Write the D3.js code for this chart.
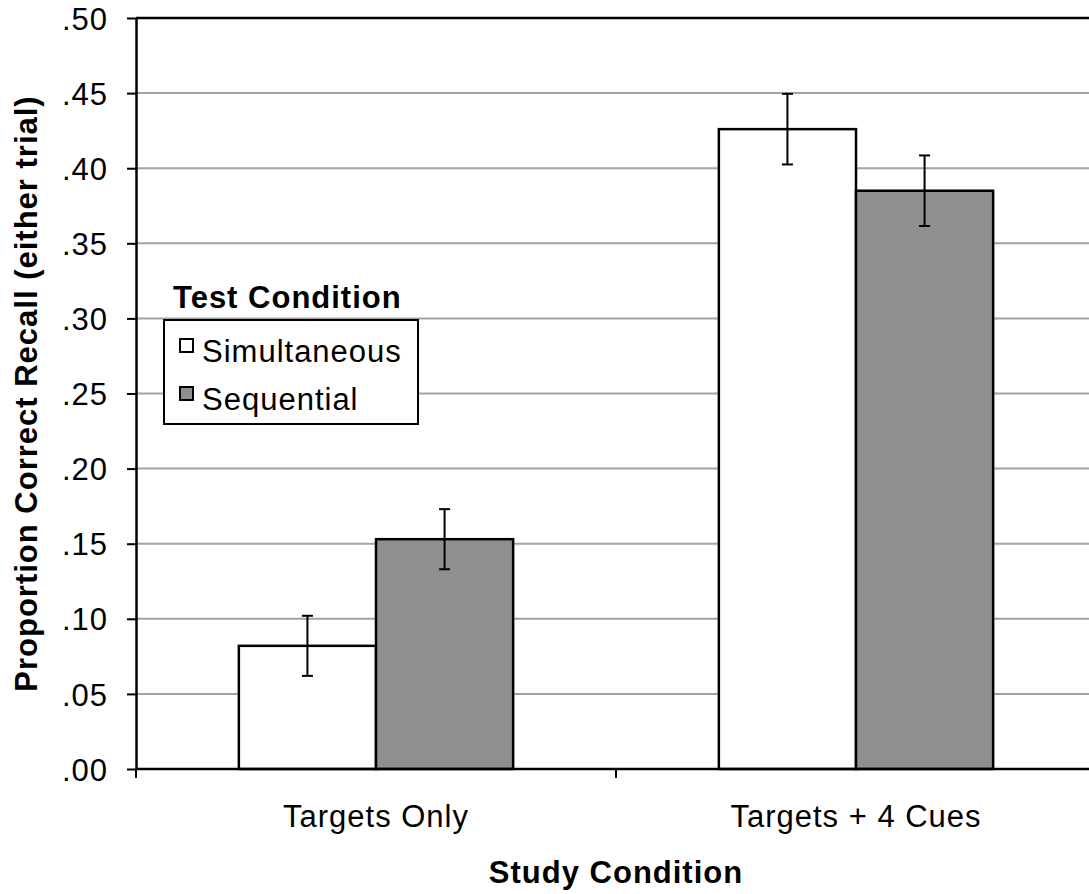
<!DOCTYPE html>
<html><head><meta charset="utf-8">
<script src="https://cdn.jsdelivr.net/npm/d3@7"></script>
<style>body{margin:0;background:#fff}svg text{font-family:"Liberation Sans",Arial,Helvetica,sans-serif;letter-spacing:1px}</style>
</head><body><svg id="c" width="1089" height="894"></svg>
<script>
const categories = ["Targets Only", "Targets + 4 Cues"];
const seriesNames = ["Simultaneous", "Sequential"];
const simultaneous = [0.082, 0.426];
const sequential = [0.153, 0.385];
const simultaneousErr = [0.020, 0.0235];
const sequentialErr = [0.020, 0.0235];
const yTicks = [0, 0.05, 0.10, 0.15, 0.20, 0.25, 0.30, 0.35, 0.40, 0.45, 0.50];
const colors = ["#ffffff", "#8f8f8f"];

const svg = d3.select("#c");
const L = 136, R = 1096, T = 18, B = 769;
const FS = 31;
const y = d3.scaleLinear().domain([0, 0.5]).range([B, T]);
const x0 = d3.scaleBand().domain(categories).range([L, R]).paddingInner(0).paddingOuter(0);
const x1 = d3.scaleBand().domain(seriesNames).range([0, x0.bandwidth()]).paddingInner(0).paddingOuter(0.75);
const fmt = v => d3.format(".2f")(v).replace(/^0/, "");

// gridlines
svg.append("g").selectAll("line").data(yTicks.filter(t => t > 0 && t < 0.5)).join("line")
  .attr("x1", L).attr("x2", R).attr("y1", d => y(d)).attr("y2", d => y(d))
  .attr("stroke", "#a3a3a3").attr("stroke-width", 2);
// top border
svg.append("line").attr("x1", L).attr("x2", R).attr("y1", y(0.5)).attr("y2", y(0.5)).attr("stroke", "#000").attr("stroke-width", 2.5);

// bars
const data = categories.map((c, i) => ({c, vals: [
  {s: seriesNames[0], v: simultaneous[i], e: simultaneousErr[i], col: colors[0]},
  {s: seriesNames[1], v: sequential[i], e: sequentialErr[i], col: colors[1]}]}));
const g = svg.append("g").selectAll("g").data(data).join("g").attr("transform", d => `translate(${x0(d.c)},0)`);
g.selectAll("rect").data(d => d.vals).join("rect")
  .attr("x", d => x1(d.s)).attr("width", x1.bandwidth())
  .attr("y", d => y(d.v)).attr("height", d => y(0) - y(d.v))
  .attr("fill", d => d.col).attr("stroke", "#000").attr("stroke-width", 2.5);
// error bars
const eb = g.selectAll("g.eb").data(d => d.vals).join("g").attr("class", "eb")
  .attr("transform", d => `translate(${x1(d.s) + x1.bandwidth() / 2},0)`);
eb.append("line").attr("y1", d => y(d.v + d.e)).attr("y2", d => y(d.v - d.e)).attr("stroke", "#000").attr("stroke-width", 2);
eb.append("line").attr("x1", -5.5).attr("x2", 5.5).attr("y1", d => y(d.v + d.e)).attr("y2", d => y(d.v + d.e)).attr("stroke", "#000").attr("stroke-width", 2);
eb.append("line").attr("x1", -5.5).attr("x2", 5.5).attr("y1", d => y(d.v - d.e)).attr("y2", d => y(d.v - d.e)).attr("stroke", "#000").attr("stroke-width", 2);

// y axis
const ya = svg.append("g").attr("transform", `translate(${L},0)`)
  .call(d3.axisLeft(y).tickValues(yTicks).tickFormat(fmt).tickSize(9).tickSizeOuter(0));
ya.select(".domain").attr("stroke", "#000").attr("stroke-width", 2.5);
ya.selectAll(".tick line").attr("stroke", "#000").attr("stroke-width", 2);
ya.selectAll("text").attr("font-size", FS).attr("fill", "#000").attr("x", -28).attr("dy", "0.36em");

// x axis
const xa = svg.append("g").attr("transform", `translate(0,${B})`);
xa.append("line").attr("x1", L).attr("x2", R).attr("stroke", "#000").attr("stroke-width", 2.5);
xa.selectAll("line.t").data([L, x0(categories[1])]).join("line").attr("class", "t")
  .attr("x1", d => d).attr("x2", d => d).attr("y1", 0).attr("y2", 9).attr("stroke", "#000").attr("stroke-width", 2);
xa.selectAll("text").data(categories).join("text")
  .attr("x", d => x0(d) + x0.bandwidth() / 2).attr("y", 58).attr("text-anchor", "middle")
  .attr("font-size", FS).text(d => d);

// axis titles
svg.append("text").attr("x", (L + R) / 2).attr("y", 883).attr("text-anchor", "middle")
  .attr("font-size", FS).attr("font-weight", "bold").text("Study Condition");
svg.append("text").attr("transform", `translate(37,${(T + B) / 2}) rotate(-90)`).attr("text-anchor", "middle")
  .attr("font-size", FS).attr("font-weight", "bold").text("Proportion Correct Recall (either trial)");

// legend
svg.append("text").attr("x", 173).attr("y", 308).attr("font-size", FS).attr("font-weight", "bold").text("Test Condition");
svg.append("rect").attr("x", 164).attr("y", 320).attr("width", 254).attr("height", 104).attr("fill", "#fff").attr("stroke", "#000").attr("stroke-width", 2);
const lg = svg.append("g").selectAll("g").data(seriesNames).join("g")
  .attr("transform", (d, i) => `translate(180,${362 + i * 48})`);
lg.append("rect").attr("x", 0).attr("y", -23).attr("width", 13).attr("height", 13)
  .attr("fill", (d, i) => colors[i]).attr("stroke", "#000").attr("stroke-width", 2);
lg.append("text").attr("x", 22).attr("y", 0).attr("font-size", FS).text(d => d);
</script></body></html>
